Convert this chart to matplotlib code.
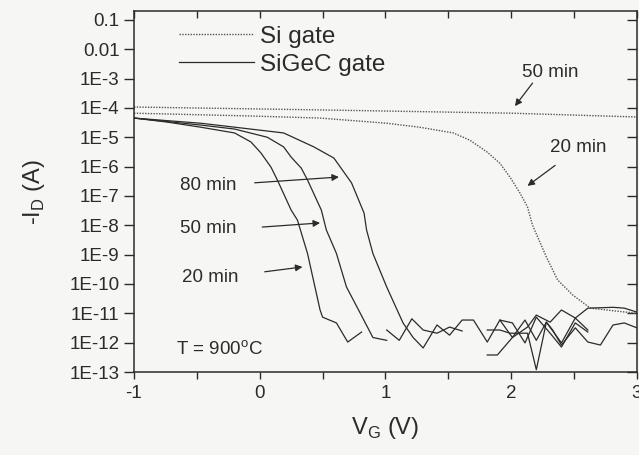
import numpy as np
import matplotlib
matplotlib.use("Agg")
import matplotlib.pyplot as plt
from matplotlib.ticker import MultipleLocator, FixedLocator, FixedFormatter
from matplotlib.lines import Line2D

plt.rcParams['font.family'] = ['Liberation Sans', 'DejaVu Sans']
plt.rcParams['axes.unicode_minus'] = False

# Si gate (dotted)
si50_v = [-1.0, 0.5, 2.0, 3.0]
si50_i = [1.07e-4, 8.5e-5, 6.6e-5, 4.9e-5]

si20_v = [-1.0, -0.08, 0.48, 1.01, 1.27, 1.54, 1.67, 1.81, 1.91, 1.99, 2.07, 2.13,
          2.17, 2.28, 2.37, 2.49, 2.63, 2.83, 3.0]
si20_i = [6.6e-5, 5.3e-5, 4.5e-5, 3.0e-5, 2.2e-5, 1.4e-5, 8.0e-6, 3.1e-6, 1.3e-6, 4.4e-7,
          1.26e-7, 4.2e-8, 1.0e-8, 8.3e-10, 1.36e-10, 4.2e-11, 1.5e-11, 1.2e-11, 1.0e-11]

# SiGeC gate (solid)
sigec20_v = [-1.0, -0.74, -0.47, -0.20, -0.07, 0.01, 0.09, 0.14, 0.25, 0.30, 0.38, 0.48,
             0.50, 0.61, 0.70, 0.81]
sigec20_i = [4.5e-5, 3.3e-5, 2.2e-5, 1.4e-5, 6.9e-6, 2.9e-6, 9.5e-7, 3.5e-7, 3.3e-8, 1.5e-8,
             1.1e-9, 1.3e-11, 7.4e-12, 4.7e-12, 1.05e-12, 2.3e-12]

sigec50_v = [-1.0, -0.47, -0.20, 0.06, 0.19, 0.25, 0.33, 0.38, 0.49, 0.53, 0.61, 0.69,
             0.80, 0.90, 1.01]
sigec50_i = [4.5e-5, 2.6e-5, 1.9e-5, 1.0e-5, 4.7e-6, 2.1e-6, 8.9e-7, 3.5e-7, 3.3e-8, 6.9e-9,
             1.1e-9, 7.9e-11, 1.0e-11, 1.5e-12, 1.2e-12]

sigec80_v = [-1.0, -0.47, -0.20, 0.19, 0.43, 0.59, 0.73, 0.83, 0.85, 0.90, 1.01, 1.14,
             1.22, 1.30, 1.41, 1.51, 1.61, 1.70, 1.81, 1.91, 2.01, 2.11, 2.20, 2.28,
             2.40, 2.51, 2.61]
sigec80_i = [4.5e-5, 3.0e-5, 2.2e-5, 1.4e-5, 4.7e-6, 1.95e-6, 2.8e-7, 2.6e-8, 6.9e-9, 1.1e-9,
             7.9e-11, 4.7e-12, 1.5e-12, 6.6e-13, 4.0e-12, 1.8e-12, 5.9e-12, 5.9e-12, 1.05e-12,
             5.9e-12, 1.5e-12, 5.9e-12, 1.2e-12, 5.0e-12, 9.8e-13, 6.9e-12, 2.7e-12]

# leftover noise-floor traces
noise_a_v = [1.01, 1.11, 1.21, 1.30, 1.41, 1.51, 1.61]
noise_a_i = [2.7e-12, 1.2e-12, 6.5e-12, 2.7e-12, 2.1e-12, 3.4e-12, 2.5e-12]

noise_b_v = [1.81, 1.89, 2.01, 2.13, 2.20, 2.31, 2.40, 2.51, 2.61, 2.81, 2.90, 3.0]
noise_b_i = [3.8e-13, 3.8e-13, 1.5e-12, 3.4e-12, 8.7e-12, 5.0e-12, 1.3e-11, 6.9e-12,
             1.5e-11, 1.6e-11, 1.5e-11, 1.1e-11]

noise_c_v = [1.81, 1.91, 1.99, 2.13, 2.20, 2.28, 2.33, 2.40, 2.51, 2.61, 2.71, 2.81, 2.90, 3.0]
noise_c_i = [2.7e-12, 2.7e-12, 2.1e-12, 2.1e-12, 1.2e-13, 5.0e-12, 2.7e-12, 8.3e-13,
             3.2e-12, 1.05e-12, 8.3e-13, 4.0e-12, 4.7e-12, 3.2e-12]

noise_d_v = [1.91, 2.01, 2.11, 2.20, 2.31, 2.40, 2.51, 2.61]
noise_d_i = [5.9e-12, 4.7e-12, 9.8e-13, 7.4e-12, 2.1e-12, 7.1e-13, 4.7e-12, 2.3e-12]

y_ticks = [1e-1, 1e-2, 1e-3, 1e-4, 1e-5, 1e-6, 1e-7, 1e-8, 1e-9, 1e-10, 1e-11, 1e-12, 1e-13]
y_labels = ['0.1', '0.01', '1E-3', '1E-4', '1E-5', '1E-6', '1E-7', '1E-8', '1E-9',
            '1E-10', '1E-11', '1E-12', '1E-13']

ink = '#2b2b2b'
bg = '#f6f6f4'

fig = plt.figure(figsize=(6.39, 4.55), dpi=100, facecolor=bg)
ax = fig.add_axes([0.2097, 0.1824, 0.787, 0.7934], facecolor=bg)

dot = dict(color='#555555', lw=1.0, ls=(0, (1, 1)))
sol = dict(color=ink, lw=0.9)

ax.plot(si50_v, si50_i, **dot)
ax.plot(si20_v, si20_i, **dot)
for v, i in [(sigec20_v, sigec20_i), (sigec50_v, sigec50_i), (sigec80_v, sigec80_i),
             (noise_a_v, noise_a_i), (noise_b_v, noise_b_i), (noise_c_v, noise_c_i),
             (noise_d_v, noise_d_i)]:
    ax.plot(v, i, **sol)

ax.set_yscale('log')
ax.set_xlim(-1, 3)
ax.set_ylim(1e-13, 0.2)

ax.xaxis.set_major_locator(MultipleLocator(1))
ax.xaxis.set_minor_locator(MultipleLocator(0.5))
ax.yaxis.set_major_locator(FixedLocator(y_ticks))
ax.yaxis.set_major_formatter(FixedFormatter(y_labels))
ax.yaxis.set_minor_locator(FixedLocator([]))

ax.tick_params(axis='both', which='both', colors=ink, labelsize=13.5, width=1.0)
ax.tick_params(axis='x', which='both', length=5, direction='out', top=True)
ax.tick_params(axis='y', which='both', length=7, direction='out', right=True)
ax.tick_params(axis='x', which='major', pad=4)
# top/right ticks point inward
for t in ax.xaxis.get_major_ticks() + ax.xaxis.get_minor_ticks():
    t.tick2line.set_marker(matplotlib.markers.TICKDOWN)
for t in ax.yaxis.get_major_ticks():
    t.tick2line.set_marker(matplotlib.markers.TICKLEFT)

for s in ax.spines.values():
    s.set_color(ink)
    s.set_linewidth(1.1)

ax.set_xlabel(r'V$_\mathregular{G}$ (V)', fontsize=17, color=ink, labelpad=10)
ax.set_ylabel(r'-I$_\mathregular{D}$ (A)', fontsize=17, color=ink, labelpad=16)

handles = [Line2D([], [], **dot), Line2D([], [], **sol)]
ax.legend(handles, ['Si gate', 'SiGeC gate'], loc='upper left', bbox_to_anchor=(0.045, 1.02),
          frameon=False, fontsize=17.5, handlelength=3.1, handletextpad=0.25,
          labelspacing=0.25, labelcolor=ink)

txt = dict(fontsize=13.5, color=ink, ha='center', va='center')
arr = dict(arrowstyle='-|>', color=ink, lw=0.9, mutation_scale=10, shrinkA=0, shrinkB=0)

ax.text(2.31, 1.55e-3, '50 min', **txt)
ax.annotate('', xy=(2.03, 1.15e-4), xytext=(2.17, 7.0e-4), arrowprops=arr)
ax.text(2.53, 4.3e-6, '20 min', **txt)
ax.annotate('', xy=(2.13, 2.2e-7), xytext=(2.35, 1.1e-6), arrowprops=arr)

ax.text(-0.41, 2.3e-7, '80 min', **txt)
ax.annotate('', xy=(0.63, 4.4e-7), xytext=(-0.04, 2.8e-7), arrowprops=arr)
ax.text(-0.41, 7.5e-9, '50 min', **txt)
ax.annotate('', xy=(0.48, 1.2e-8), xytext=(0.02, 8.7e-9), arrowprops=arr)
ax.text(-0.39, 1.6e-10, '20 min', **txt)
ax.annotate('', xy=(0.34, 3.8e-10), xytext=(0.04, 2.6e-10), arrowprops=arr)

ax.text(-0.32, 5.6e-13, r'T = 900$^\mathregular{o}$C', **txt)

fig.savefig('out.png', dpi=100, facecolor=bg)
